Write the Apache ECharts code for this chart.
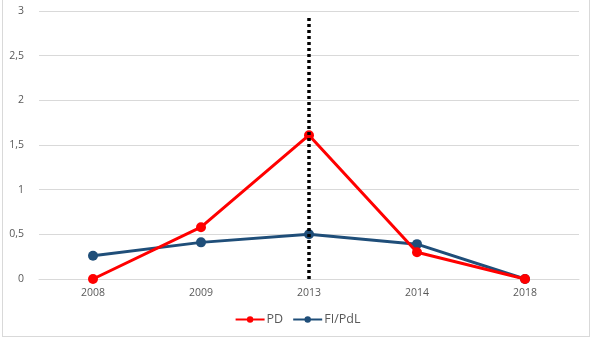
<!DOCTYPE html>
<html><head><meta charset="utf-8">
<script src="https://cdn.jsdelivr.net/npm/echarts@6/dist/echarts.min.js"></script>
<style>html,body{margin:0;padding:0;background:#fff}
#frame{position:absolute;left:2px;top:-2px;width:588px;height:339px;border:1px solid #d9d9d9;box-sizing:border-box}
#c{position:absolute;left:0;top:0;width:595px;height:342px}</style>
</head><body><div id="frame"></div><div id="c"></div>
<script>
const categories = ['2008','2009','2013','2014','2018'];
const pd = [0, 0.58, 1.61, 0.30, 0];
const fi = [0.26, 0.41, 0.50, 0.39, 0];
const yTicks = [0, 0.5, 1, 1.5, 2, 2.5, 3];
const markerYear = '2013';
const markerTop = 2.93;

const chart = echarts.init(document.getElementById('c'));
const font = 'Open Sans, Noto Sans, sans-serif';
chart.setOption({
  animation:false,
  grid:{left:39,right:16,top:11,bottom:63},
  xAxis:{type:'category',data:categories,boundaryGap:true,
    axisLine:{lineStyle:{color:'#d9d9d9'}},axisTick:{show:false},
    axisLabel:{color:'#595959',fontSize:10.5,fontFamily:font,margin:9}},
  yAxis:{type:'value',min:0,max:3,interval:0.5,
    axisLine:{show:false},axisTick:{show:false},
    splitLine:{lineStyle:{color:'#d9d9d9',width:1}},
    axisLabel:{color:'#595959',fontSize:10.5,fontFamily:font,margin:15,
      formatter:v=>String(v).replace('.',',')}},
  legend:{bottom:11,left:'center',itemWidth:29,itemHeight:8,itemGap:9,
    textStyle:{color:'#595959',fontSize:12.5,fontFamily:font,padding:[0,0,0,-3]},
    data:['PD','FI/PdL']},
  series:[
    {name:'PD',type:'line',data:pd,symbol:'circle',symbolSize:10,
      lineStyle:{color:'#ff0000',width:3},itemStyle:{color:'#ff0000'},z:3},
    {name:'FI/PdL',type:'line',data:fi,symbol:'circle',symbolSize:10,
      lineStyle:{color:'#1f4e79',width:3},itemStyle:{color:'#1f4e79'},z:2,
      markLine:{silent:true,symbol:'none',label:{show:false},
        lineStyle:{color:'#000',type:[3,3],width:3.5},
        data:[[{coord:[markerYear,0]},{coord:[markerYear,markerTop]}]]}}
  ]
});
</script></body></html>
